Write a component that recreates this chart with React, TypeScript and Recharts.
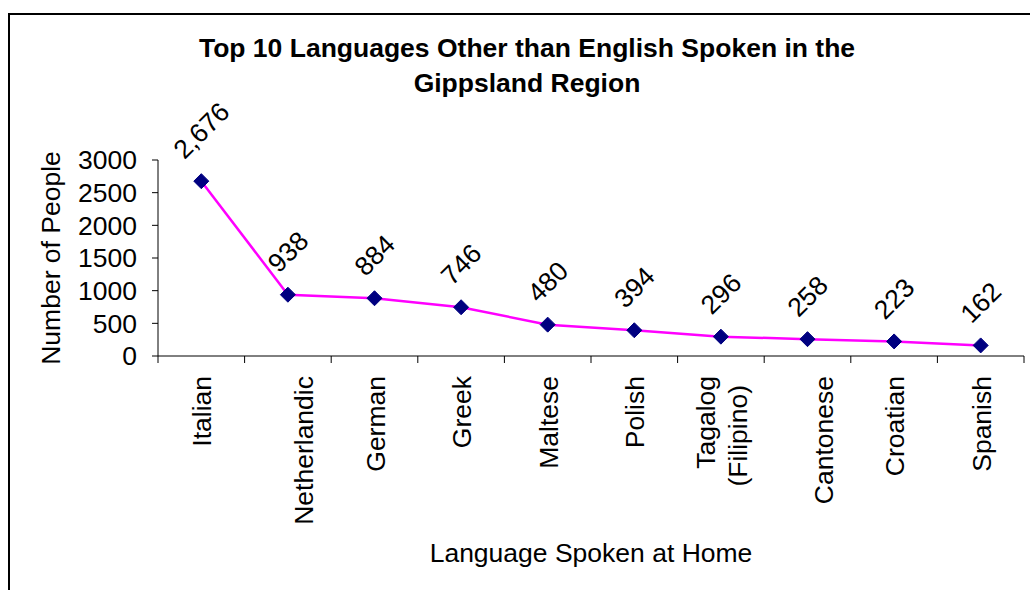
import { LineChart, Line, XAxis, YAxis, LabelList } from "recharts";

const languages = [
  "Italian",
  "Netherlandic",
  "German",
  "Greek",
  "Maltese",
  "Polish",
  "Tagalog\n(Filipino)",
  "Cantonese",
  "Croatian",
  "Spanish",
];
const speakers = [2676, 938, 884, 746, 480, 394, 296, 258, 223, 162];
const yTicks = [0, 500, 1000, 1500, 2000, 2500, 3000];

const data = languages.map((name, i) => ({ name, people: speakers[i] }));

const FONT = "'Liberation Sans', Arial, sans-serif";
const FS = 26.5;
const W = 1030;
const H = 590;
const M = { top: 160, right: 6, bottom: 54, left: 78 };
const YAXIS_W = 80;
const XAXIS_H = 180;
const AXIS_Y = H - M.bottom - XAXIS_H;
const BAND = (W - M.left - M.right - YAXIS_W) / languages.length;

// rough Arial advance widths, for placing rotated value labels
const charW = (c: string) => (c === "," ? 0.278 : 0.556);

const CategoryTick = (props: any) => {
  const { x, payload, index } = props;
  const lines = String(payload.value).split("\n");
  const shift = lines.length === 1 && lines[0].length > 8 ? 15 : 0;
  return (
    <g>
      <line x1={x - BAND / 2} x2={x - BAND / 2} y1={AXIS_Y} y2={AXIS_Y + 7} stroke="#000" />
      {index === languages.length - 1 && (
        <line x1={x + BAND / 2} x2={x + BAND / 2} y1={AXIS_Y} y2={AXIS_Y + 7} stroke="#000" />
      )}
      {lines.map((ln, i) => {
        const bx = x + 10 + shift + i * 32 - (lines.length - 1) * 16;
        const ey = AXIS_Y + 20 + i * 9;
        return (
          <text
            key={i}
            x={bx}
            y={ey}
            transform={`rotate(-90 ${bx} ${ey})`}
            textAnchor="end"
            fontFamily={FONT}
            fontSize={FS}
            fill="#000"
          >
            {ln}
          </text>
        );
      })}
    </g>
  );
};

const ValueLabel = (props: any) => {
  const { x, y, value } = props;
  const txt = Number(value).toLocaleString("en-US");
  const w = txt.split("").reduce((s, c) => s + charW(c), 0) * FS;
  const cy = y - (18 + (w + FS) / (2 * Math.SQRT2));
  return (
    <text
      x={x}
      y={cy}
      dy="0.35em"
      transform={`rotate(-45 ${x} ${cy})`}
      textAnchor="middle"
      fontFamily={FONT}
      fontSize={FS}
      fill="#000"
    >
      {txt}
    </text>
  );
};

const Diamond = (props: any) => {
  const { cx, cy, index } = props;
  const r = 7.5;
  return (
    <path
      key={`d-${index}`}
      d={`M${cx},${cy - r}L${cx + r},${cy}L${cx},${cy + r}L${cx - r},${cy}Z`}
      fill="#000080"
      stroke="#000080"
    />
  );
};

export default function App() {
  return (
    <div style={{ position: "absolute", left: 0, top: 0, width: W, height: H, background: "#fff" }}>
      <div
        style={{
          position: "absolute",
          left: 8,
          top: 13,
          width: W - 8,
          height: H - 13,
          borderTop: "2px solid #000",
          borderLeft: "2px solid #000",
          boxSizing: "border-box",
        }}
      />
      <svg
        width={W}
        height={H}
        style={{ position: "absolute", left: 0, top: 0 }}
        fontFamily={FONT}
      >
        <text x={527} y={57} textAnchor="middle" fontSize={FS} fontWeight="bold" fill="#000">
          Top 10 Languages Other than English Spoken in the
        </text>
        <text x={527} y={92} textAnchor="middle" fontSize={FS} fontWeight="bold" fill="#000">
          Gippsland Region
        </text>
        <text
          x={60}
          y={258}
          transform="rotate(-90 60 258)"
          textAnchor="middle"
          fontSize={FS}
          fill="#000"
        >
          Number of People
        </text>
        <text x={591} y={562} textAnchor="middle" fontSize={FS} fill="#000">
          Language Spoken at Home
        </text>
      </svg>
      <div style={{ position: "absolute", left: 0, top: 0 }}>
        <LineChart width={W} height={H} data={data} margin={M}>
          <XAxis
            dataKey="name"
            scale="band"
            interval={0}
            height={XAXIS_H}
            axisLine={{ stroke: "#000" }}
            tickLine={false}
            tick={<CategoryTick />}
          />
          <YAxis
            width={YAXIS_W}
            domain={[0, 3000]}
            ticks={yTicks}
            interval={0}
            axisLine={{ stroke: "#000" }}
            tickLine={{ stroke: "#000" }}
            tickSize={6}
            tickMargin={15}
            tick={{ fontFamily: FONT, fontSize: FS, fill: "#000" }}
          />
          <Line
            dataKey="people"
            stroke="#FF00FF"
            strokeWidth={2.5}
            dot={Diamond}
            activeDot={false}
            isAnimationActive={false}
          >
            <LabelList dataKey="people" content={<ValueLabel />} />
          </Line>
        </LineChart>
      </div>
    </div>
  );
}
